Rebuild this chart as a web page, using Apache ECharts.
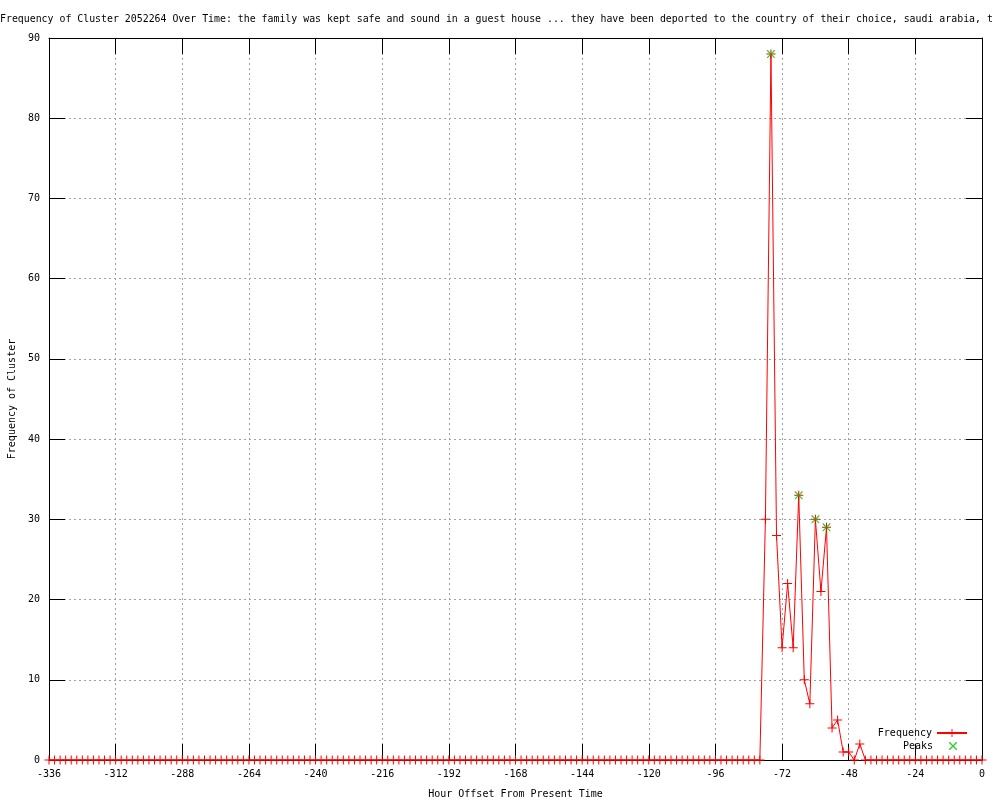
<!DOCTYPE html>
<html>
<head>
<meta charset="utf-8">
<script src="https://cdn.jsdelivr.net/npm/echarts@6/dist/echarts.min.js"></script>
<style>html,body{margin:0;padding:0;background:#fff;}#c{width:1000px;height:800px;}</style>
</head>
<body>
<div id="c"></div>
<script>
const titleText = "Frequency of Cluster 2052264 Over Time: the family was kept safe and sound in a guest house ... they have been deported to the country of their choice, saudi arabia, t";
const xTickLabels = [-336,-312,-288,-264,-240,-216,-192,-168,-144,-120,-96,-72,-48,-24,0];
const yTickLabels = [0,10,20,30,40,50,60,70,80,90];

const hours = [
-336,-334,-332,-330,-328,-326,-324,-322,-320,-318,-316,-314,-312,-310,-308,-306,
-304,-302,-300,-298,-296,-294,-292,-290,-288,-286,-284,-282,-280,-278,-276,-274,
-272,-270,-268,-266,-264,-262,-260,-258,-256,-254,-252,-250,-248,-246,-244,-242,
-240,-238,-236,-234,-232,-230,-228,-226,-224,-222,-220,-218,-216,-214,-212,-210,
-208,-206,-204,-202,-200,-198,-196,-194,-192,-190,-188,-186,-184,-182,-180,-178,
-176,-174,-172,-170,-168,-166,-164,-162,-160,-158,-156,-154,-152,-150,-148,-146,
-144,-142,-140,-138,-136,-134,-132,-130,-128,-126,-124,-122,-120,-118,-116,-114,
-112,-110,-108,-106,-104,-102,-100,-98,-96,-94,-92,-90,-88,-86,-84,-82,
-80,-78,-76,-74,-72,-70,-68,-66,-64,-62,-60,-58,-56,-54,-52,-50,
-48,-46,-44,-42,-40,-38,-36,-34,-32,-30,-28,-26,-24,-22,-20,-18,
-16,-14,-12,-10,-8,-6,-4,-2,0
];
const frequency = [
0,0,0,0,0,0,0,0,0,0,0,0,0,0,0,0,
0,0,0,0,0,0,0,0,0,0,0,0,0,0,0,0,
0,0,0,0,0,0,0,0,0,0,0,0,0,0,0,0,
0,0,0,0,0,0,0,0,0,0,0,0,0,0,0,0,
0,0,0,0,0,0,0,0,0,0,0,0,0,0,0,0,
0,0,0,0,0,0,0,0,0,0,0,0,0,0,0,0,
0,0,0,0,0,0,0,0,0,0,0,0,0,0,0,0,
0,0,0,0,0,0,0,0,0,0,0,0,0,0,0,0,
0,30,88,28,14,22,14,33,10,7,30,21,29,4,5,1,
1,0,2,0,0,0,0,0,0,0,0,0,0,0,0,0,
0,0,0,0,0,0,0,0,0
];
const peakHours = [-76,-66,-60,-56];
const peakValues = [88,33,30,29];

const FONT = "'DejaVu Sans Mono', monospace";
const plusPath = 'path://M0,4H9V5H0ZM4,0H5V9H4Z';
const crossPath = 'path://M0,0L1,0L9,8L9,9L8,9L0,1ZM8,0L9,0L9,1L1,9L0,9L0,8Z';
const crossLegendPath = 'path://M0,0L0.01,0L0,0.01ZM30,10L29.99,10L30,9.99ZM11,1L12,1L19,8L19,9L18,9L11,2ZM18,1L19,1L19,2L12,9L11,9L11,8Z';

const chart = echarts.init(document.getElementById('c'), null, {renderer:'canvas'});
const xMin = xTickLabels[0], xMax = xTickLabels[xTickLabels.length-1];
const yMin = yTickLabels[0], yMax = yTickLabels[yTickLabels.length-1];
const gridLine = {show:true, lineStyle:{color:'#a0a0a0', width:1, type:[2,3]}};
const tick = {show:true, inside:true, length:16, lineStyle:{color:'#000', width:1}};
const line = {show:true, onZero:false, lineStyle:{color:'#000', width:1}};

chart.setOption({
  animation:false,
  backgroundColor:'#fff',
  title:{text:titleText, left:0, top:14, padding:0, textStyle:{fontFamily:FONT, fontSize:9.9, fontWeight:'normal', color:'#000'}},
  grid:{left:49, right:18, top:38, bottom:40, containLabel:false, outerBoundsMode:'none'},
  legend:[
    {data:['Frequency'], right:32, top:728, padding:0, itemWidth:30, itemHeight:10, align:'right',
     textStyle:{fontFamily:FONT, fontSize:10, color:'#000'}},
    {data:[{name:'Peaks', icon:crossLegendPath}], right:32, top:741, padding:0, itemWidth:30, itemHeight:10, align:'right',
     textStyle:{fontFamily:FONT, fontSize:10, color:'#000'}}
  ],
  xAxis:[
    {type:'value', min:xMin, max:xMax, interval:24, position:'bottom',
     name:'Hour Offset From Present Time', nameLocation:'middle', nameGap:29,
     nameTextStyle:{fontFamily:FONT, fontSize:10, color:'#000'},
     axisLine:line, axisTick:tick, splitLine:gridLine,
     axisLabel:{fontFamily:FONT, fontSize:10, color:'#000', margin:9}},
    {type:'value', min:xMin, max:xMax, interval:24, position:'top',
     axisLine:line, axisTick:tick, splitLine:{show:false}, axisLabel:{show:false}}
  ],
  yAxis:[
    {type:'value', min:yMin, max:yMax, interval:10, position:'left',
     name:'Frequency of Cluster', nameLocation:'middle', nameGap:32, nameRotate:90,
     nameTextStyle:{fontFamily:FONT, fontSize:10, color:'#000'},
     axisLine:line, axisTick:tick, splitLine:gridLine,
     axisLabel:{fontFamily:FONT, fontSize:10, color:'#000', margin:9}},
    {type:'value', min:yMin, max:yMax, interval:10, position:'right',
     axisLine:line, axisTick:tick, splitLine:{show:false}, axisLabel:{show:false}}
  ],
  series:[
    {name:'Frequency', type:'line', xAxisIndex:0, yAxisIndex:0,
     data:hours.map((h,i)=>[h, frequency[i]]),
     symbol:plusPath, symbolSize:9, showAllSymbol:true,
     lineStyle:{color:'#ff0000', width:1}, itemStyle:{color:'#ff0000'}, z:3},
    {name:'Peaks', type:'scatter', xAxisIndex:0, yAxisIndex:0,
     data:peakHours.map((h,i)=>[h, peakValues[i]]),
     symbol:crossPath, symbolSize:8, itemStyle:{color:'#00c000'}, z:4}
  ]
});
</script>
</body>
</html>
